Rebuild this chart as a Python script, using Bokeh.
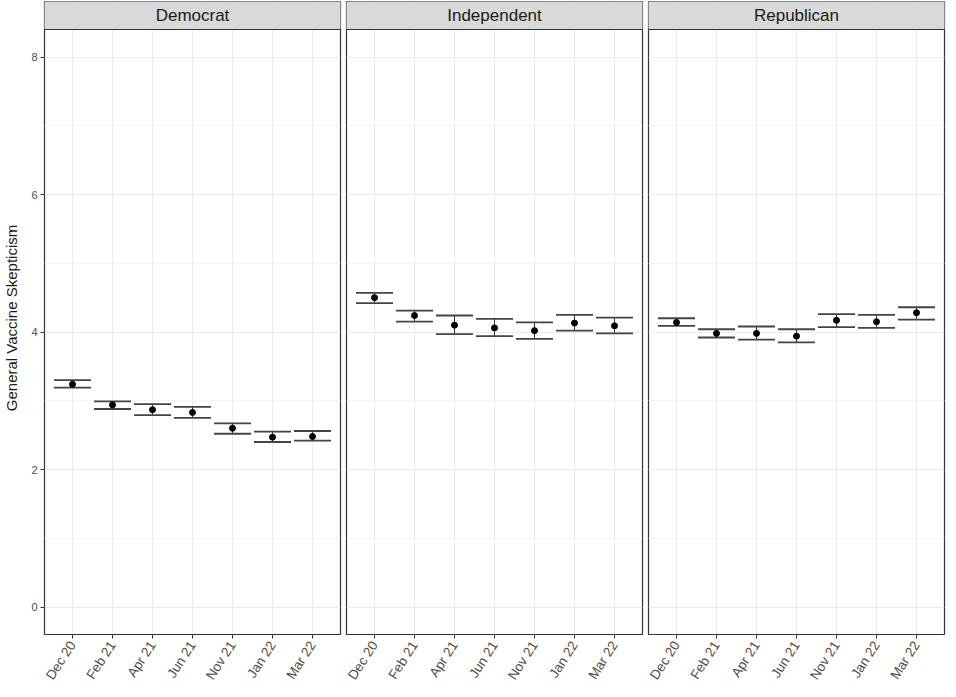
import math
from bokeh.plotting import figure
from bokeh.models import (ColumnDataSource, FactorRange, Range1d, FixedTicker,
                          Whisker, TeeHead, Grid)
from bokeh.layouts import row
from bokeh.embed import file_html
from bokeh.resources import INLINE
from bokeh.core.properties import value

# ---------------- data ----------------
waves = ["Dec 20", "Feb 21", "Apr 21", "Jun 21", "Nov 21", "Jan 22", "Mar 22"]
parties = ["Democrat", "Independent", "Republican"]

dem_mean = [3.24, 2.94, 2.87, 2.83, 2.60, 2.47, 2.48]
dem_lower = [3.19, 2.88, 2.79, 2.75, 2.52, 2.40, 2.42]
dem_upper = [3.30, 2.99, 2.95, 2.91, 2.67, 2.55, 2.56]

ind_mean = [4.50, 4.24, 4.10, 4.06, 4.02, 4.13, 4.09]
ind_lower = [4.42, 4.15, 3.97, 3.94, 3.90, 4.02, 3.98]
ind_upper = [4.57, 4.31, 4.24, 4.19, 4.14, 4.25, 4.21]

rep_mean = [4.14, 3.98, 3.98, 3.94, 4.17, 4.15, 4.28]
rep_lower = [4.09, 3.92, 3.89, 3.85, 4.07, 4.06, 4.18]
rep_upper = [4.20, 4.04, 4.08, 4.04, 4.26, 4.25, 4.36]

y_ticks = [0, 2, 4, 6, 8]
y_minor = [1, 3, 5, 7]
y_label = "General Vaccine Skepticism"

series = {
    "Democrat": (dem_mean, dem_lower, dem_upper),
    "Independent": (ind_mean, ind_lower, ind_upper),
    "Republican": (rep_mean, rep_lower, rep_upper),
}

# ---------------- layout constants ----------------
FONT = "Liberation Sans"
FRAME_W = 296
PANEL_PX = 605
STRIP_PX = 28
FRAME_H = PANEL_PX + STRIP_PX
Y_LO, Y_HI = -0.4, 8.4
strip_units = STRIP_PX * (Y_HI - Y_LO) / PANEL_PX
Y_TOP = Y_HI + strip_units
DARK = "#333333"
PAD = 0.2                      # absolute factor padding (0.1 each side)
X_LO, X_HI = -PAD / 2, len(waves) + PAD / 2   # synthetic frame extent
unit_px = FRAME_W / (len(waves) + PAD)
cap_px = 0.9 * unit_px

figs = []
for i, party in enumerate(parties):
    mean, lower, upper = series[party]
    src = ColumnDataSource(dict(wave=waves, mean=mean, lower=lower, upper=upper))

    p = figure(
        x_range=FactorRange(factors=waves, range_padding=PAD,
                            range_padding_units="absolute"),
        y_range=Range1d(Y_LO, Y_TOP),
        frame_width=FRAME_W, frame_height=FRAME_H,
        output_backend="svg", toolbar_location=None,
        y_axis_location="left" if i == 0 else None,
        min_border_top=1, min_border_bottom=0,
        min_border_left=5 if i == 0 else 3, min_border_right=3,
        background_fill_color="white", border_fill_color="white",
    )
    p.outline_line_color = DARK
    p.outline_line_width = 1.2

    # grids
    p.xgrid.grid_line_color = "#ebebeb"
    p.xgrid.grid_line_width = 1
    for g in p.ygrid:
        g.visible = False
    yg = Grid(dimension=1, ticker=FixedTicker(ticks=y_ticks, minor_ticks=y_minor),
              grid_line_color="#ebebeb", grid_line_width=1,
              minor_grid_line_color="#f4f4f4", minor_grid_line_width=1)
    p.add_layout(yg)

    # x axis
    xa = p.xaxis[0]
    xa.axis_line_color = None
    xa.major_tick_line_color = DARK
    xa.major_tick_out = 4
    xa.major_tick_in = 0
    xa.minor_tick_line_color = None
    xa.major_label_orientation = math.radians(57)
    xa.major_label_text_font = FONT
    xa.major_label_text_font_size = "13.5px"
    xa.major_label_text_color = "#4d4d4d"
    xa.major_label_standoff = 4

    if i == 0:
        ya = p.yaxis[0]
        ya.ticker = FixedTicker(ticks=y_ticks)
        ya.axis_line_color = None
        ya.major_tick_line_color = DARK
        ya.major_tick_out = 4
        ya.major_tick_in = 0
        ya.minor_tick_line_color = None
        ya.major_label_text_font = FONT
        ya.major_label_text_font_size = "11px"
        ya.major_label_text_color = "#4d4d4d"
        ya.major_label_standoff = 3
        ya.axis_label = y_label
        ya.axis_label_text_font = FONT
        ya.axis_label_text_font_size = "15px"
        ya.axis_label_text_font_style = "normal"
        ya.axis_label_text_color = "#1a1a1a"
        ya.axis_label_standoff = 8

    # error bars and points
    wh = Whisker(source=src, base="wave", upper="upper", lower="lower",
                 dimension="height", line_color=DARK, line_width=1,
                 upper_head=TeeHead(size=cap_px, line_color="#444444", line_width=1.8),
                 lower_head=TeeHead(size=cap_px, line_color="#444444", line_width=1.8))
    p.add_layout(wh)
    p.scatter("wave", "mean", source=src, size=6, color="black")

    # facet strip (synthetic coordinates spanning the whole frame width)
    p.quad(left=[X_LO - 1], right=[X_HI + 1], bottom=[Y_HI], top=[Y_TOP + 1],
           fill_color="#d9d9d9", line_color=DARK, line_width=1.2)
    p.text(x=[(X_LO + X_HI) / 2], y=[Y_HI + strip_units / 2], text=[party],
           text_align="center", text_baseline="middle",
           text_font=value(FONT), text_font_size="17px", text_color="#1a1a1a")

    figs.append(p)

layout = row(*figs)
open("out.html", "w").write(file_html(layout, INLINE, "General Vaccine Skepticism"))
